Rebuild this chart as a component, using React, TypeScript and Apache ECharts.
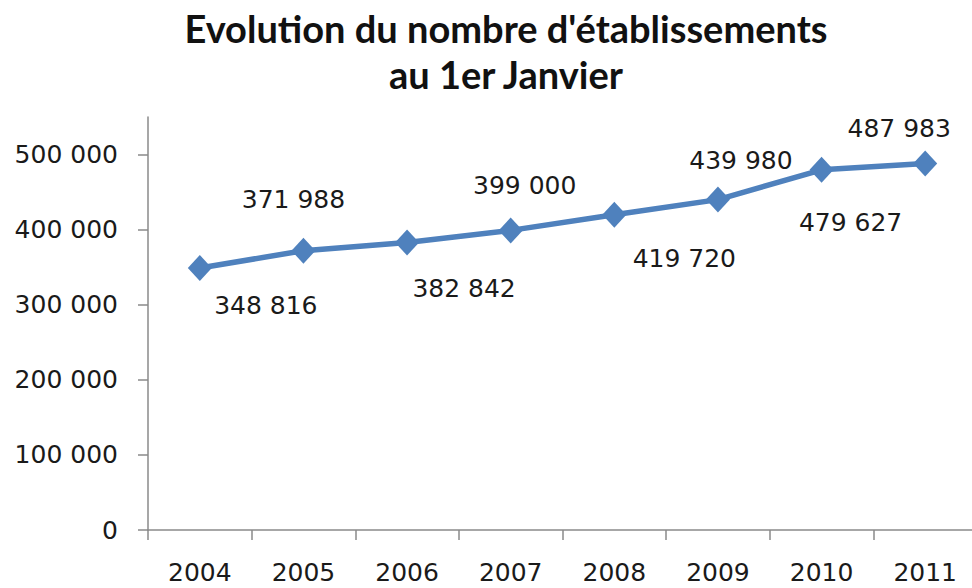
import React, { useEffect, useRef } from "react";
import * as echarts from "echarts";

const years = ["2004", "2005", "2006", "2007", "2008", "2009", "2010", "2011"];
const establishments = [348816, 371988, 382842, 399000, 419720, 439980, 479627, 487983];
const labelOffsets: [number, number][] = [
  [66, 37], [-10, -51], [57, 46], [14, -45], [70, 44], [23, -39], [29, 53], [-26, -35],
];
const yTicks = [0, 100000, 200000, 300000, 400000, 500000];
const titleText = "Evolution du nombre d'établissements\nau 1er Janvier";

const fmt = (v: number) => {
  const s = String(Math.round(v));
  return s.replace(/\B(?=(\d{3})+(?!\d))/g, " ");
};

export default function App() {
  const ref = useRef<HTMLDivElement>(null);
  useEffect(() => {
    if (!ref.current) return;
    const chart = echarts.init(ref.current, null, { renderer: "svg" });
    const numFont = "DejaVu Sans";
    chart.setOption({
      animation: false,
      backgroundColor: "#ffffff",
      graphic: [
        {
          type: "text",
          x: 506,
          y: 5,
          style: {
            text: titleText,
            fontFamily: "Lato",
            fontWeight: "bold",
            fontSize: 38,
            lineHeight: 46,
            fill: "#111",
            textAlign: "center",
            textVerticalAlign: "top",
          },
        },
      ],
      grid: { left: 148, right: 3, top: 117, bottom: 58, containLabel: false },
      xAxis: {
        type: "category",
        data: years,
        boundaryGap: true,
        axisLine: { lineStyle: { color: "#8a8a8a", width: 1.5 } },
        axisTick: { show: true, length: 10, lineStyle: { color: "#8a8a8a", width: 1.5 } },
        axisLabel: { fontFamily: numFont, fontSize: 25, color: "#1a1a1a", margin: 30 },
        splitLine: { show: false },
      },
      yAxis: {
        type: "value",
        min: 0,
        max: 550000,
        interval: 100000,
        axisLine: { show: true, lineStyle: { color: "#8a8a8a", width: 1.5 } },
        axisTick: { show: true, length: 10, customValues: yTicks, lineStyle: { color: "#8a8a8a", width: 1.5 } },
        axisLabel: {
          fontFamily: numFont,
          fontSize: 25,
          color: "#1a1a1a",
          margin: 30,
          customValues: yTicks,
          formatter: (v: number) => fmt(v),
        },
        splitLine: { show: false },
      },
      series: [
        {
          type: "line",
          data: establishments.map((v, i) => ({
            value: v,
            label: { offset: labelOffsets[i] },
          })),
          lineStyle: { color: "#4F81BD", width: 5.5 },
          itemStyle: { color: "#4F81BD" },
          symbol: "diamond",
          symbolSize: [24, 26],
          label: {
            show: true,
            position: "inside",
            fontFamily: numFont,
            fontSize: 25,
            color: "#1a1a1a",
            formatter: (p: any) => fmt(p.value),
          },
        },
      ],
    });
    return () => chart.dispose();
  }, []);
  return (
    <div style={{ width: 972, height: 588, position: "absolute", left: 0, top: 0, overflow: "hidden" }}>
      <div ref={ref} style={{ width: 980, height: 588 }} />
    </div>
  );
}
